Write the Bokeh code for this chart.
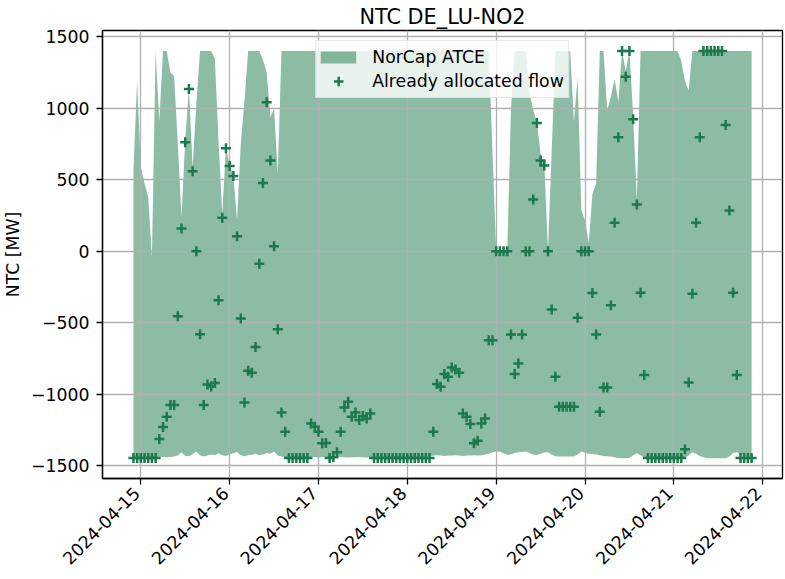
import numpy as np
import pandas as pd
from bokeh.plotting import figure
from bokeh.models import Range1d, FixedTicker, DatetimeTickFormatter, Legend, LegendItem
from bokeh.embed import file_html
from bokeh.resources import INLINE

# ---------------- data (hourly, starting 2024-04-14 22:00) ----------------
start_time = "2024-04-14 22:00"

norcap_upper = [
    560, 1190, 590, 475, 380, -40, 1400, 910, 1400, 1400, 1250, 1225,
    750, 240, 780, 1140, 590, 1030, 1400, 1400, 1400, 1400, 1350, 770,
    265, 730, 600, 530, 215, 750, 1050, 1400, 1400, 1400, 1400, 1340,
    1250, 940, 1000, 545, 1400, 1400, 1400, 1400, 1400, 1400, 1400, 1400,
    1400, 1400, 1400, 1400, 1400, 1400, 1400, 1400, 1400, 1400, 1400, 1400,
    1400, 1400, 1400, 1400, 1400, 1400, 1400, 1400, 1400, 1400, 1400, 1400,
    1400, 1400, 1400, 1400, 1400, 1400, 1400, 1400, 1400, 1400, 1400, 1400,
    1400, 1400, 1400, 1400, 1400, 1400, 1400, 1400, 1400, 1400, 1400, 1400,
    1400, 700, 0, 0, 0, 0, 1000, 1400, 1400, 1400, 1400, 1100,
    990, 900, 680, 610, 10, 700, 1400, 1400, 1400, 1400, 1400, 910,
    1215, 290, 215, 60, 400, 475, 1400, 1400, 985, 1080, 1205, 1045,
    1400, 1260, 1400, 950, 360, 1400, 1400, 1400, 1400, 1400, 1400, 1400,
    1400, 1400, 1400, 1400, 1330, 1190, 1125, 1400, 1400, 1400, 1400, 1400,
    1400, 1400, 1400, 1400, 1400, 1400, 1400, 1400, 1400, 1400, 1400, 1400,
]

norcap_lower = [
    -1438, -1440, -1438, -1440, -1437, -1440, -1438, -1436, -1438, -1440, -1437, -1435,
    -1428, -1405, -1430, -1432, -1418, -1400, -1425, -1435, -1428, -1420, -1425, -1412,
    -1425, -1430, -1420, -1412, -1403, -1425, -1432, -1425, -1422, -1415, -1425, -1420,
    -1410, -1415, -1400, -1428, -1435, -1437, -1440, -1438, -1440, -1441, -1439, -1440,
    -1440, -1438, -1441, -1440, -1438, -1440, -1442, -1440, -1438, -1440, -1441, -1439,
    -1440, -1438, -1440, -1441, -1440, -1439, -1440, -1441, -1438, -1440, -1440, -1439,
    -1440, -1438, -1440, -1441, -1439, -1440, -1438, -1436, -1432, -1428, -1426, -1428,
    -1430, -1427, -1428, -1426, -1428, -1430, -1427, -1428, -1426, -1428, -1425, -1420,
    -1415, -1405, -1400, -1400, -1412, -1423, -1418, -1410, -1405, -1402, -1400, -1410,
    -1420, -1423, -1415, -1407, -1405, -1420, -1432, -1435, -1435, -1435, -1435, -1435,
    -1420, -1400, -1408, -1415, -1417, -1420, -1425, -1430, -1433, -1435, -1440, -1445,
    -1447, -1447, -1445, -1425, -1412, -1425, -1440, -1447, -1447, -1447, -1447, -1447,
    -1447, -1447, -1447, -1447, -1447, -1445, -1425, -1405, -1415, -1430, -1440, -1447,
    -1447, -1447, -1447, -1447, -1447, -1435, -1410, -1405, -1420, -1435, -1435, -1435,
]

allocated_flow = [
    -1445, -1445, -1445, -1445, -1445, -1445, -1445, -1312, -1228, -1156, -1075, -1075,
    -454, 160, 763, 1135, 560, 0, -580, -1075, -930, -945, -920, -342,
    235, 721, 596, 526, 105, -470, -1056, -835, -849, -668, -86, 477,
    1042, 635, 35, -544, -1126, -1261, -1445, -1445, -1445, -1445, -1445, -1445,
    -1203, -1226, -1261, -1342, -1340, -1445, -1440, -1405, -1261, -1092, -1051, -1156,
    -1126, -1179, -1151, -1168, -1133, -1445, -1445, -1445, -1445, -1445, -1445, -1445,
    -1445, -1445, -1445, -1445, -1445, -1445, -1445, -1445, -1445, -1261, -928, -947,
    -858, -877, -812, -826, -849, -1133, -1156, -1207, -1342, -1324, -1203, -1168,
    -621, -621, 0, 0, 0, 0, -582, -858, -784, -582, 0, 0,
    363, 898, 635, 600, 0, -407, -877, -1086, -1086, -1086, -1086, -1086,
    -465, 0, 0, 0, -291, -582, -1121, -951, -951, -377, 200, 798,
    1400, 1221, 1400, 923, 328, -289, -865, -1445, -1445, -1445, -1445, -1445,
    -1445, -1445, -1445, -1445, -1445, -1384, -916, -296, 200, 798, 1400, 1400,
    1400, 1400, 1400, 1400, 884, 286, -289, -865, -1445, -1445, -1445, -1445,
]

x_tick_labels = ["2024-04-15", "2024-04-16", "2024-04-17", "2024-04-18",
                 "2024-04-19", "2024-04-20", "2024-04-21", "2024-04-22"]
y_ticks = [-1500, -1000, -500, 0, 500, 1000, 1500]

title_text = "NTC DE_LU-NO2"
y_label = "NTC [MW]"
area_label = "NorCap ATCE"
flow_label = "Already allocated flow"

# ---------------- style ----------------
GREEN = "#1b7a4c"
FONT = "DejaVu Sans"
TXT = "17.3px"

W, H = 785, 579
BL, BR, BT, BB = 101, 3, 29, 101

times = pd.date_range(start_time, periods=len(norcap_upper), freq="h")
span = times[-1] - times[0]
x_range = Range1d(times[0] - 0.05 * span, times[-1] + 0.05 * span)
y_range = Range1d(-1588, 1544)

p = figure(width=W, height=H, x_axis_type="datetime", title=title_text,
           x_range=x_range, y_range=y_range,
           output_backend="svg", toolbar_location=None,
           min_border_left=BL, min_border_right=BR,
           min_border_top=BT, min_border_bottom=BB)
p.title.align = "center"
p.title.text_font = FONT
p.title.text_font_size = "20.8px"
p.title.text_font_style = "normal"
p.title.text_color = "black"
p.title.text_line_height = 0.85
p.title.standoff = 4
p.title.offset = 0

area_r = p.varea(x=times, y1=norcap_lower, y2=norcap_upper,
                 fill_color=GREEN, fill_alpha=0.5, level="image")
flow_r = p.scatter(x=times, y=allocated_flow, marker="cross", size=10, line_width=2.5,
                   line_color=GREEN)
# legend swatch for the area (thick line shown as a 36x12 patch; no visible data)
swatch_r = p.line(x=[times[0], times[0]], y=[np.nan, np.nan],
                  line_color=GREEN, line_alpha=0.5, line_width=12)

# axes
tick_ms = [pd.Timestamp(d).value / 1e6 for d in x_tick_labels]
p.xaxis.ticker = FixedTicker(ticks=tick_ms)
p.xaxis.major_label_overrides = {ms: lab + "\u00a0" for ms, lab in zip(tick_ms, x_tick_labels)}
p.xaxis.formatter = DatetimeTickFormatter(hours="%Y-%m-%d", days="%Y-%m-%d",
                                          months="%Y-%m-%d", years="%Y-%m-%d")
p.xaxis.major_label_orientation = np.pi / 4

p.yaxis.ticker = FixedTicker(ticks=y_ticks)
p.yaxis.major_label_overrides = {v: str(v).replace("-", "\u2212") for v in y_ticks}
p.yaxis.axis_label = y_label
p.yaxis.axis_label_text_font = FONT
p.yaxis.axis_label_text_font_size = TXT
p.yaxis.axis_label_text_font_style = "normal"
p.yaxis.axis_label_text_color = "black"
p.yaxis.axis_label_standoff = 5

for ax in (p.xaxis[0], p.yaxis[0]):
    ax.major_label_text_font = FONT
    ax.major_label_text_font_size = TXT
    ax.major_label_text_color = "black"
    ax.major_label_standoff = 7
    ax.axis_line_color = "black"
    ax.axis_line_width = 1.3
    ax.major_tick_line_color = "black"
    ax.major_tick_line_width = 1.3
    ax.major_tick_out = 6
    ax.major_tick_in = 0
    ax.minor_tick_line_color = None
p.xaxis.major_label_standoff = 2

p.outline_line_color = "black"
p.outline_line_width = 1.3
p.outline_line_alpha = 1.0

p.grid.grid_line_color = "#b0b0b0"
p.grid.grid_line_width = 1.3
p.grid.level = "underlay"

# legend
lg = Legend(items=[LegendItem(label=area_label, renderers=[swatch_r]),
                   LegendItem(label=flow_label, renderers=[flow_r])],
            location="top_center", margin=10, padding=4, spacing=0,
            glyph_width=36, glyph_height=24, label_height=20, label_standoff=16,
            label_text_font=FONT, label_text_font_size=TXT, label_text_color="black",
            border_line_color="#cccccc", border_line_width=1,
            background_fill_color="white", background_fill_alpha=0.8)
p.add_layout(lg, "center")

open("out.html", "w").write(file_html(p, INLINE))
